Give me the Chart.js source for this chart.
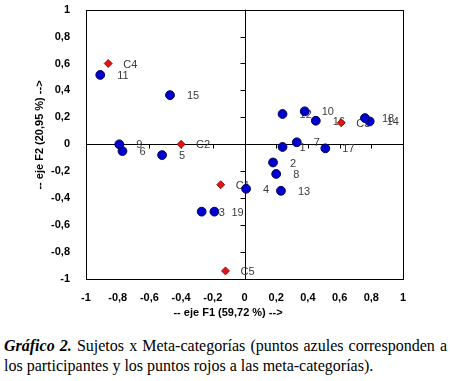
<!DOCTYPE html>
<html>
<head>
<meta charset="utf-8">
<script src="https://cdn.jsdelivr.net/npm/chart.js@4.4.0/dist/chart.umd.min.js"></script>
<style>
  body { margin: 0; background: #fff; }
  #wrap { position: absolute; left: 0; top: 0; width: 450px; height: 325px; }
  .cap { position: absolute; left: 4px; width: 443px; font: 16px "Liberation Serif", "Times New Roman", serif; line-height: 20px; color: #000; white-space: nowrap; }
  #cap1 { top: 336px; text-align: justify; text-align-last: justify; }
  #cap2 { top: 356px; }
</style>
</head>
<body>
<div id="wrap"><canvas id="chart" width="450" height="325"></canvas></div>
<div class="cap" id="cap1"><b><i>Gráfico 2.</i></b> Sujetos x Meta-categorías (puntos azules corresponden a</div>
<div class="cap" id="cap2">los participantes y los puntos rojos a las meta-categorías).</div>
<script>
// sujetos (puntos azules)
const subjectLabels = ["1", "2", "3", "4", "5", "6", "7", "8", "9", "10",
  "11", "12", "13", "14", "15", "16", "17", "18", "19"];
const subjectF1 = [0.24, 0.18, -0.27, 0.01, -0.52, -0.77, 0.33, 0.20, -0.79, 0.38,
  -0.91, 0.24, 0.23, 0.79, -0.47, 0.45, 0.51, 0.76, -0.19];
const subjectF2 = [-0.02, -0.135, -0.50, -0.33, -0.08, -0.05, 0.015, -0.22, 0.0, 0.245,
  0.515, 0.225, -0.345, 0.17, 0.365, 0.175, -0.03, 0.195, -0.50];

// meta-categorías (puntos rojos)
const categoryLabels = ["C1", "C2", "C3", "C4", "C5"];
const categoryF1 = [-0.15, -0.40, 0.61, -0.86, -0.12];
const categoryF2 = [-0.30, 0.0, 0.16, 0.60, -0.94];

const axisTicks = [-1, -0.8, -0.6, -0.4, -0.2, 0, 0.2, 0.4, 0.6, 0.8, 1];
const xTitle = "-- eje F1 (59,72 %) -->";
const yTitle = "-- eje F2 (20,95 %) -->";

const toPoints = (xs, ys) => xs.map((x, i) => ({ x: x, y: ys[i] }));
const fmt = (v) => String(Math.round(v * 10) / 10).replace(".", ",");
const tickFont = { family: "'Liberation Sans', Arial, sans-serif", size: 11, weight: "bold" };

// marco, ejes en el origen, etiquetas de puntos
const framePlugin = {
  id: "frame",
  beforeDatasetsDraw(chart) {
    const { ctx, chartArea: a, scales: { x, y } } = chart;
    const x0 = Math.round(x.getPixelForValue(0)) + 0.5;
    const y0 = Math.round(y.getPixelForValue(0)) + 0.5;
    ctx.save();
    ctx.strokeStyle = "#000";
    ctx.lineWidth = 1;
    ctx.strokeRect(Math.round(a.left) + 0.5, Math.round(a.top) + 0.5,
      Math.round(a.right - a.left), Math.round(a.bottom - a.top));
    ctx.beginPath();
    ctx.moveTo(a.left, y0);
    ctx.lineTo(a.right, y0);
    ctx.moveTo(x0, a.top);
    ctx.lineTo(x0, a.bottom);
    axisTicks.forEach((v) => {
      const px = Math.round(x.getPixelForValue(v)) + 0.5;
      ctx.moveTo(px, y0);
      ctx.lineTo(px, y0 + 4);
      const py = Math.round(y.getPixelForValue(v)) + 0.5;
      ctx.moveTo(x0 - 5, py);
      ctx.lineTo(x0, py);
    });
    ctx.stroke();

    ctx.font = "11px 'Liberation Sans', Arial, sans-serif";
    ctx.fillStyle = "#3a3a3a";
    ctx.textBaseline = "middle";
    ctx.textAlign = "left";
    chart.data.datasets.forEach((ds, i) => {
      const meta = chart.getDatasetMeta(i);
      meta.data.forEach((el, j) => {
        ctx.fillText(ds.pointNames[j], el.x + ds.labelGap, el.y + 1);
      });
    });
    ctx.restore();
  },
  afterDraw(chart) {
    const { ctx } = chart;
    ctx.save();
    ctx.font = "bold 11px 'Liberation Sans', Arial, sans-serif";
    ctx.fillStyle = "#000";
    ctx.textAlign = "center";
    ctx.textBaseline = "middle";
    ctx.fillText(xTitle, 228, 313);
    ctx.translate(40, 135);
    ctx.rotate(-Math.PI / 2);
    ctx.fillText(yTitle, 0, 0);
    ctx.restore();
  },
};

const ctx = document.getElementById("chart").getContext("2d");
const chart = new Chart(ctx, {
  type: "scatter",
  data: {
    datasets: [
      {
        label: "Sujetos",
        data: toPoints(subjectF1, subjectF2),
        pointNames: subjectLabels,
        labelGap: 17,
        pointStyle: "circle",
        pointRadius: 4.4,
        backgroundColor: "#0000d0",
        borderColor: "#000050",
        borderWidth: 1,
      },
      {
        label: "Meta-categorías",
        data: toPoints(categoryF1, categoryF2),
        pointNames: categoryLabels,
        labelGap: 15,
        pointStyle: "rectRot",
        pointRadius: 4,
        backgroundColor: "#e01414",
        borderColor: "#800000",
        borderWidth: 0.8,
      },
    ],
  },
  options: {
    responsive: false,
    animation: false,
    devicePixelRatio: 1,
    layout: { padding: { top: 7, right: 47, left: 0, bottom: 0 } },
    scales: {
      x: {
        type: "linear",
        min: -1,
        max: 1,
        afterBuildTicks: (s) => { s.ticks = axisTicks.map((v) => ({ value: v })); },
        afterFit: (s) => { s.height = 46; },
        ticks: { font: tickFont, color: "#000", padding: 12, maxRotation: 0, autoSkip: false, callback: fmt },
        grid: { display: false, drawTicks: false },
        border: { display: false },
      },
      y: {
        type: "linear",
        min: -1,
        max: 1,
        afterBuildTicks: (s) => { s.ticks = axisTicks.map((v) => ({ value: v })); },
        afterFit: (s) => { s.width = 86; },
        ticks: { font: tickFont, color: "#000", padding: 3, autoSkip: false, callback: fmt },
        // tickLength only pushes the labels left, grid itself is hidden
        grid: { display: false, drawTicks: true, tickLength: 13 },
        border: { display: false },
      },
    },
    plugins: {
      legend: { display: false },
      tooltip: { enabled: false },
    },
  },
  plugins: [framePlugin],
});
</script>
</body>
</html>
